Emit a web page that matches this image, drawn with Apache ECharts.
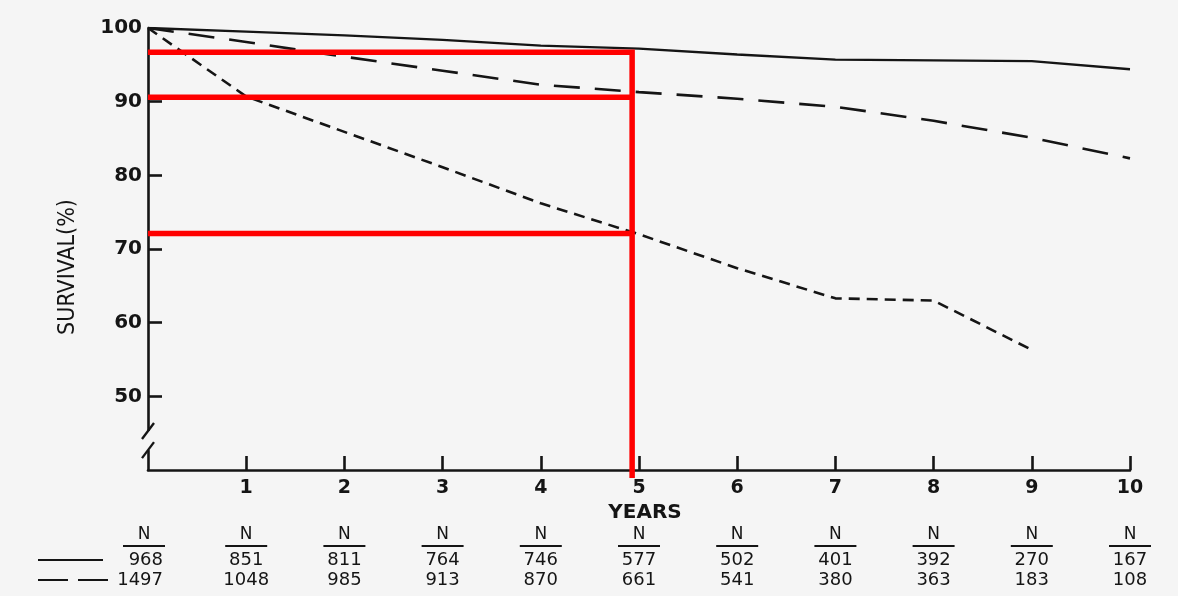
<!DOCTYPE html>
<html>
<head>
<meta charset="utf-8">
<script src="https://cdn.jsdelivr.net/npm/echarts@6/dist/echarts.min.js"></script>
<style>
html,body{margin:0;padding:0;background:#f5f5f5;}
#chart{width:1178px;height:596px;}
</style>
</head>
<body>
<div id="chart"></div>
<script>
// ---- data ----
const years = [0, 1, 2, 3, 4, 5, 6, 7, 8, 9, 10];
const survivalSolid     = [100, 99.5, 99.0, 98.4, 97.6, 97.2, 96.4, 95.7, 95.6, 95.5, 94.4];
const survivalLongDash  = [100, 98.1, 96.1, 94.2, 92.3, 91.3, 90.4, 89.3, 87.4, 85.1, 82.3];
const survivalShortDash = [100, 90.7, 85.9, 81.1, 76.2, 72.0, 67.4, 63.3, 63.0, 56.3];
const yTickValues = [50, 60, 70, 80, 90];
const yLabelValues = [50, 60, 70, 80, 90, 100];
const xTickValues = [1, 2, 3, 4, 5, 6, 7, 8, 9, 10];
const markYear = 4.93;
const markValues = [96.7, 90.6, 72.1];
const markBottom = 38.9;
const nSolid    = [968, 851, 811, 764, 746, 577, 502, 401, 392, 270, 167];
const nLongDash = [1497, 1048, 985, 913, 870, 661, 541, 380, 363, 183, 108];
const breakValues = [45.3, 42.7];

const INK = '#151515';
const pairs = arr => arr.map((v, i) => [years[i], v]);

const chart = echarts.init(document.getElementById('chart'));

const series = [
  { name: 'solid', type: 'line', data: pairs(survivalSolid), symbol: 'none',
    lineStyle: { color: INK, width: 2.3 }, z: 3 },
  { name: 'long', type: 'line', data: pairs(survivalLongDash), symbol: 'none',
    lineStyle: { color: INK, width: 2.6, type: [26, 15] }, z: 3 },
  { name: 'short', type: 'line', data: pairs(survivalShortDash), symbol: 'none',
    lineStyle: { color: INK, width: 2.6, type: [11, 7] }, z: 3 },
  { name: 'mark0', type: 'line', clip: false, symbol: 'none', z: 5,
    data: [[0, markValues[0]], [markYear, markValues[0]], [markYear, markBottom]],
    lineStyle: { color: '#ff0000', width: 5.5, join: 'miter' } },
  { name: 'mark1', type: 'line', clip: false, symbol: 'none', z: 5,
    data: [[0, markValues[1]], [markYear, markValues[1]]],
    lineStyle: { color: '#ff0000', width: 5.5 } },
  { name: 'mark2', type: 'line', clip: false, symbol: 'none', z: 5,
    data: [[0, markValues[2]], [markYear, markValues[2]]],
    lineStyle: { color: '#ff0000', width: 5.5 } }
];

chart.setOption({
  backgroundColor: '#f5f5f5',
  animation: false,
  grid: { left: 148, right: 48, top: 28, bottom: 126 },
  xAxis: {
    type: 'value', min: 0, max: 10, interval: 1,
    name: 'YEARS', nameLocation: 'middle', nameGap: 27,
    nameTextStyle: { fontFamily: 'DejaVu Sans', fontWeight: 'bold', fontSize: 20, color: INK, padding: [0, 0, 0, 12] },
    axisLine: { lineStyle: { color: INK, width: 2.6 } },
    axisTick: { inside: true, length: 14, lineStyle: { color: INK, width: 2.6 }, customValues: xTickValues },
    axisLabel: { customValues: xTickValues, margin: 9, fontFamily: 'DejaVu Sans', fontWeight: 'bold', fontSize: 19, color: INK },
    splitLine: { show: false }
  },
  yAxis: {
    type: 'value', min: 40, max: 100, interval: 10,
    name: 'SURVIVAL(%)', nameLocation: 'middle', nameGap: 68,
    nameTextStyle: { fontFamily: 'Liberation Sans Narrow, DejaVu Sans Condensed, sans-serif', fontSize: 23, color: INK, padding: [0, 36, 0, 0] },
    axisLine: { lineStyle: { color: INK, width: 2.6 } },
    axisTick: { inside: true, length: 14, lineStyle: { color: INK, width: 2.6 }, customValues: yTickValues },
    axisLabel: { customValues: yLabelValues, margin: 6, fontFamily: 'DejaVu Sans', fontWeight: 'bold', fontSize: 20, color: INK },
    splitLine: { show: false }
  },
  series: series
});

// ---- table of N and axis break, placed from the axis scale ----
const px = (x, y) => chart.convertToPixel({ gridIndex: 0 }, [x, y]);
const axisBottom = px(0, 40)[1];
const rowHead = axisBottom + 65, rowLine = axisBottom + 76, row1 = axisBottom + 90, row2 = axisBottom + 110;
const font = 'DejaVu Sans';
const g = [];
years.forEach((yr, i) => {
  const cx = px(yr, 40)[0];
  const first = i === 0;
  const hx = first ? cx - 4 : cx;
  g.push({ type: 'text', x: hx, y: rowHead, style: { text: 'N', font: '17px ' + font, fill: INK, textAlign: 'center', textVerticalAlign: 'middle' } });
  g.push({ type: 'line', shape: { x1: hx - 21, y1: rowLine, x2: hx + 21, y2: rowLine }, style: { stroke: INK, lineWidth: 2 } });
  const align = first ? 'right' : 'center';
  const tx = first ? cx + 15 : cx;
  g.push({ type: 'text', x: tx, y: row1, style: { text: String(nSolid[i]), font: '18px ' + font, fill: INK, textAlign: align, textVerticalAlign: 'middle' } });
  g.push({ type: 'text', x: tx, y: row2, style: { text: String(nLongDash[i]), font: '18px ' + font, fill: INK, textAlign: align, textVerticalAlign: 'middle' } });
});
const x0 = px(0, 40)[0];
g.push({ type: 'line', shape: { x1: x0 - 110, y1: row1, x2: x0 - 45, y2: row1 }, style: { stroke: INK, lineWidth: 2 } });
g.push({ type: 'line', shape: { x1: x0 - 110, y1: row2, x2: x0 - 39, y2: row2 }, style: { stroke: INK, lineWidth: 2, lineDash: [30, 10] } });
// axis break marks
const b1 = px(0, breakValues[0]), b2 = px(0, breakValues[1]);
g.push({ type: 'rect', shape: { x: x0 - 3, y: b1[1], width: 6, height: b2[1] - b1[1] }, style: { fill: '#f5f5f5' }, z: 10 });
[b1, b2].forEach(b => {
  g.push({ type: 'line', shape: { x1: b[0] - 6, y1: b[1] + 8, x2: b[0] + 6, y2: b[1] - 8 }, style: { stroke: INK, lineWidth: 2.4 }, z: 11 });
});
chart.setOption({ graphic: g });
</script>
</body>
</html>
